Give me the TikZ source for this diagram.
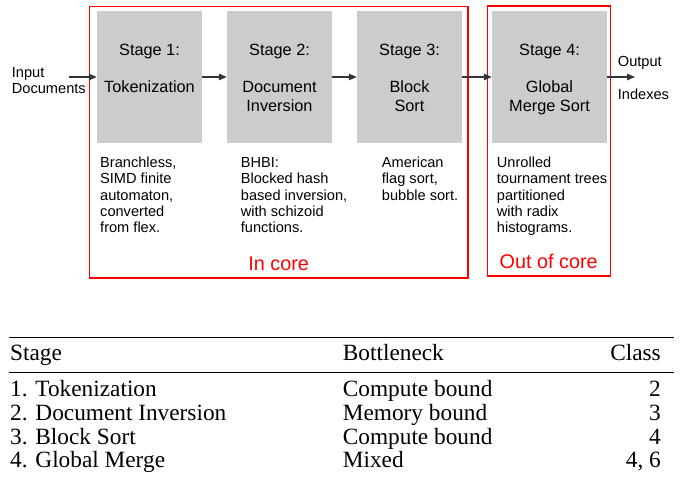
\documentclass[tikz,border=0pt]{standalone}
\usepackage{fontspec}
\setmainfont{Liberation Serif}
\setsansfont{Liberation Sans}
\usetikzlibrary{positioning,arrows.meta}
\definecolor{boxgray}{HTML}{CCCCCC}
\definecolor{corered}{HTML}{FF0000}
\tikzset{
  stagebox/.style={fill=boxgray,inner sep=0,minimum height=132pt},
  stagetext/.style={font=\sffamily\fontsize{16.3}{18.8}\selectfont,align=center,anchor=base,inner sep=0},
  note/.style={font=\sffamily\fontsize{14.6}{16.2}\selectfont,align=left,anchor=base west,inner sep=0},
  corelab/.style={font=\sffamily\fontsize{19.8}{22}\selectfont,text=corered,anchor=base,inner sep=0},
  flow/.style={draw=black!80,line width=1.1pt,-{Triangle[length=8pt,width=6.5pt]}},
  cell/.style={font=\fontsize{23.3}{26}\selectfont,anchor=base west,inner sep=0},
}
\begin{document}
\begin{tikzpicture}[x=1pt,y=-1pt]
\useasboundingbox (0,0) rectangle (683,479);
% in core / out of core frames
\draw[corered,line width=1.2pt] (89.3,6.7) rectangle (468,278);
\draw[corered,line width=1.2pt] (487.3,6) rectangle (610.3,276);
\node[corelab] (incore) at (278.7,270.7) {In core};
\node[corelab] (outcore) at (548.7,268.3) {Out of core};
% the four stages (base anchor sits on the last line)
\foreach \i/\x/\w/\yb/\name in {1/149.5/105/92.3/Tokenization,2/279.5/105/111.1/{Document\\Inversion},3/409.5/105/111.1/{Block\\Sort},4/549.5/115/111.1/{Global\\Merge Sort}}{
  \node[stagebox,minimum width=\w pt] (s\i) at (\x,77) {};
  \node[stagetext] (s\i h) at (\x,55.7) {Stage \i:};
  \node[stagetext] (s\i n) at (\x,\yb) {\name};
}
\coordinate (in) at (69,77);
\coordinate (out) at (635,77);
\draw[flow] (in) -- (s1.west); \draw[flow] (s1.east) -- (s2.west);
\draw[flow] (s2.east) -- (s3.west); \draw[flow] (s3.east) -- (s4.west);
\draw[flow] (s4.east) -- (out);
\node[note] (inlab) at (11.7,93.5) {Input\\Documents};
\node[note] (outtop) at (617.7,66.7) {Output};
\node[note] (outbot) at (617.7,99.3) {Indexes};
% notes under the stages
\node[note] (d1) at (100,232.5) {Branchless,\\SIMD finite\\automaton,\\converted\\from flex.};
\node[note] (d2) at (240.7,232.5) {BHBI:\\Blocked hash\\based inversion,\\with schizoid\\functions.};
\node[note] (d3) at (381.7,200.1) {American\\flag sort,\\bubble sort.};
\node[note] (d4) at (496.7,232.5) {Unrolled\\tournament trees\\partitioned\\with radix\\histograms.};
% table
\draw[line width=1.6pt] (9,337.3) -- (674,337.3);
\draw[line width=0.9pt] (9,372.7) -- (674,372.7);
\node[cell] (hstg) at (10,360.7) {Stage};
\node[cell] (hbnk) at (342.7,360.7) {Bottleneck};
\node[cell,anchor=base east] (hcls) at (661,360.7) {Class};
\foreach \k/\y/\stg/\bnk/\cls in {1/396/Tokenization/Compute bound/2,2/420/Document Inversion/Memory bound/3,3/444/Block Sort/Compute bound/4,4/467.3/Global Merge/Mixed/{4, 6}}{
  \node[cell] (stg\k) at (10,\y) {\k. \stg};
  \node[cell] (bnk\k) at (342.7,\y) {\bnk};
  \node[cell,anchor=base east] (cls\k) at (661,\y) {\cls};
}
\end{tikzpicture}
\end{document}
